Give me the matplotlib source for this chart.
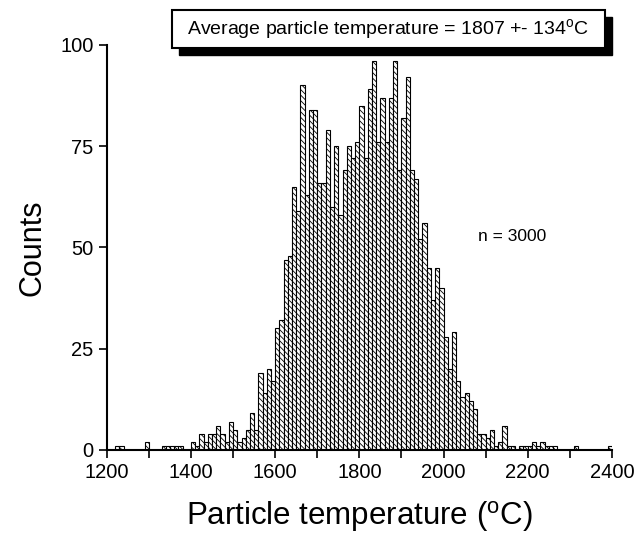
import numpy as np
import matplotlib
matplotlib.use("Agg")
from matplotlib import pyplot as plt
from matplotlib.patches import Rectangle

plt.rcParams["font.family"] = ["Liberation Sans", "DejaVu Sans"]
plt.rcParams["mathtext.default"] = "regular"
plt.rcParams["hatch.linewidth"] = 0.6

# histogram, 10 degC bins starting at 1200
bin_start = 1200
bin_width = 10
counts = [
    0, 0, 1, 1, 0, 0, 0, 0, 0, 2,          # 1200-1290
    0, 0, 0, 1, 1, 1, 1, 1, 0, 0,          # 1300-1390
    2, 1, 4, 2, 4, 4, 6, 4, 2, 7,          # 1400-1490
    5, 2, 3, 5, 9, 5, 19, 14, 20, 17,      # 1500-1590
    30, 32, 47, 48, 65, 59, 90, 63, 84, 84,  # 1600-1690
    66, 66, 79, 60, 75, 58, 69, 75, 72, 76,  # 1700-1790
    85, 72, 89, 96, 76, 87, 76, 87, 96, 69,  # 1800-1890
    82, 92, 69, 67, 52, 56, 45, 37, 45, 40,  # 1900-1990
    28, 20, 29, 17, 13, 14, 12, 10, 4, 4,    # 2000-2090
    3, 5, 1, 2, 6, 1, 1, 0, 1, 1,            # 2100-2190
    1, 2, 1, 2, 1, 1, 1, 0, 0, 0,            # 2200-2290
    0, 1, 0, 0, 0, 0, 0, 0, 0, 1,            # 2300-2390
]
x_ticks = [1200, 1400, 1600, 1800, 2000, 2200, 2400]
y_ticks = [0, 25, 50, 75, 100]
n_total = 3000
avg_text = "Average particle temperature = 1807 +- 134$^{o}$C"

counts = np.array(counts)
edges = bin_start + bin_width * np.arange(len(counts))
mask = counts > 0

fig = plt.figure(figsize=(6.36, 5.35), dpi=100)
ax = fig.add_axes([0.168, 0.159, 0.794, 0.757])

ax.bar(edges[mask], counts[mask], width=bin_width, align="edge",
       facecolor="white", edgecolor="black", linewidth=0.8, hatch="\\\\\\\\\\\\")

ax.set_xlim(1200, 2400)
ax.set_ylim(0, 100)
ax.set_xticks(x_ticks)
ax.set_yticks(y_ticks)
ax.set_xticks(np.arange(1300, 2400, 200), minor=True)
ax.tick_params(axis="both", which="major", labelsize=14.5, length=6, width=1.2, direction="out")
ax.tick_params(axis="x", which="minor", length=6, width=1.2, direction="out")
for s in ["top", "right"]:
    ax.spines[s].set_visible(False)
for s in ["left", "bottom"]:
    ax.spines[s].set_linewidth(1.5)

ax.set_xlabel("Particle temperature ($^{o}$C)", fontsize=22.5, labelpad=12)
ax.set_ylabel("Counts", fontsize=22, labelpad=9)
ax.text(0.735, 0.515, f"n = {n_total}", transform=ax.transAxes, fontsize=12.5)

# shadowed title box
sh = 7 / 636
sv = 7 / 535
bx, by, bw, bh = 0.270, 0.910, 0.681, 0.071
fig.patches.append(Rectangle((bx + sh, by - sv), bw, bh, transform=fig.transFigure,
                             facecolor="black", edgecolor="black", zorder=1))
fig.patches.append(Rectangle((bx, by), bw, bh, transform=fig.transFigure,
                             facecolor="white", edgecolor="black", linewidth=1.5, zorder=2))
fig.text(bx + bw / 2, by + bh / 2, avg_text, ha="center", va="center", fontsize=14, zorder=3)

fig.savefig("out.png", dpi=100)
